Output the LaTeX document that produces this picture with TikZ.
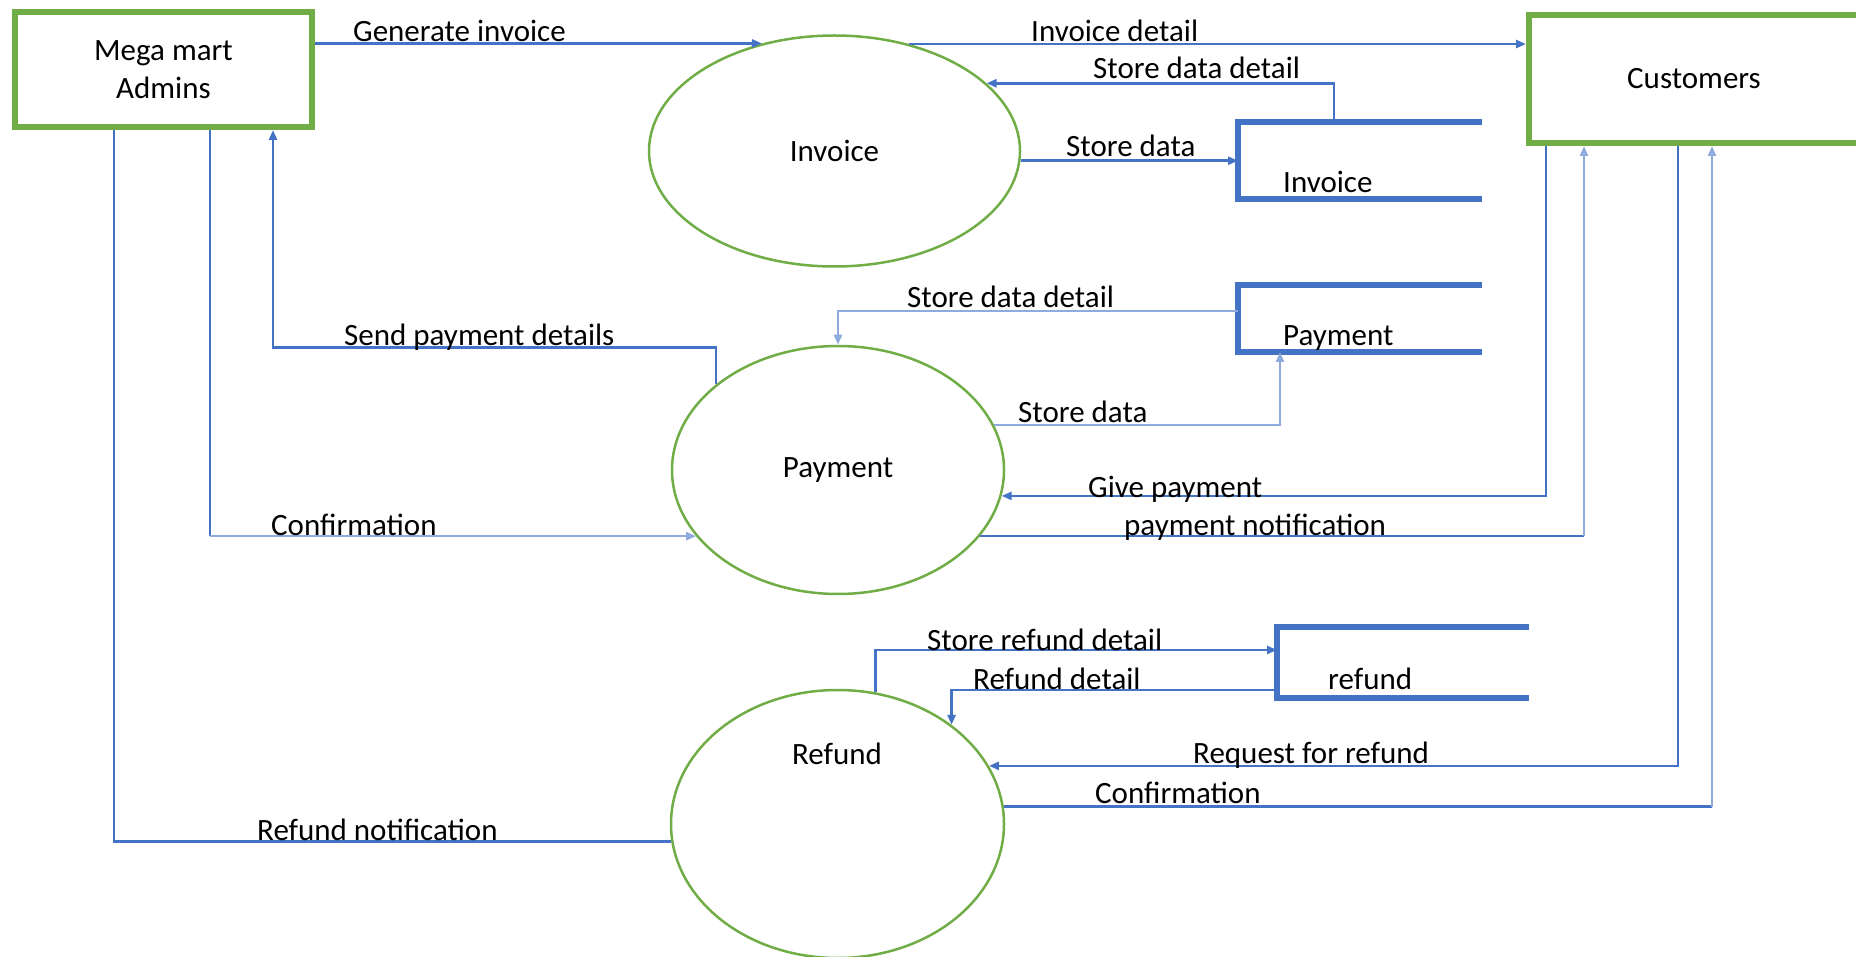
\documentclass[tikz,border=0pt]{standalone}
\usepackage{fontspec}
\setmainfont{Carlito}
\usetikzlibrary{shapes.geometric,arrows.meta}
\definecolor{fblue}{HTML}{4472C4}
\definecolor{flight}{HTML}{8FAADC}
\definecolor{egreen}{HTML}{70AD47}
\begin{document}
\begin{tikzpicture}[x=1pt,y=-1pt,
  txt/.style={font=\fontsize{31}{38}\selectfont},
  lbl/.style={txt, inner sep=0pt, anchor=base west},
  entity/.style={draw=egreen, line width=6pt, txt, align=center, inner sep=0pt},
  proc/.style={ellipse, draw=egreen, line width=2.5pt, txt, inner sep=0pt},
  store/.style={inner sep=0pt, outer sep=0pt},
  stline/.style={draw=fblue, line width=6pt},
  flow/.style={draw=fblue, line width=2.5pt, -{Triangle[length=10pt,width=8pt]}},
  flowplain/.style={draw=fblue, line width=2.5pt},
  light/.style={draw=flight}]
\useasboundingbox (0,0) rectangle (1856,957);

% entities
\node[entity, minimum width=297, minimum height=115] (adm) at (163.5,69.5) {Mega mart\\Admins};
\node[entity, minimum width=330, minimum height=128] (cust) at (1694,79) {Customers};

% processes
\node[proc, minimum width=371, minimum height=231] (inv) at (834.5,151) {Invoice};
\node[proc, minimum width=332, minimum height=248] (pay) at (838,470) {Payment};
\node[proc, minimum width=333, minimum height=268] (ref) at (837.5,824) {};
\node[txt, inner sep=0pt] (refT) at (837,754) {Refund};

% data stores
\node[store, minimum width=244, minimum height=77] (invS) at (1360,160.5) {};
\draw[stline] (invS.north east) -- (invS.north west) -- (invS.south west) -- (invS.south east);
\node[lbl] (invST) at (1283,193) {Invoice};

\node[store, minimum width=244, minimum height=67] (payS) at (1360,318.5) {};
\draw[stline] (payS.north east) -- (payS.north west) -- (payS.south west) -- (payS.south east);
\node[lbl] (payST) at (1283,346) {Payment};

\node[store, minimum width=252, minimum height=71] (refS) at (1403,662.5) {};
\draw[stline] (refS.north east) -- (refS.north west) -- (refS.south west) -- (refS.south east);
\node[lbl] (refST) at (1328,689) {refund};

% flows: invoice
\draw[flow] (adm.east |- inv.124.8) -- (inv.124.8);
\node[lbl] (l1) at (353,42) {Generate invoice};
\draw[flow] (inv.55.2) -- (inv.55.2 -| cust.west);
\node[lbl] (l2) at (1031,42) {Invoice detail};
\draw[flow] ([xshift=96pt]invS.north west) |- (inv.24.4);
\node[lbl] (l3) at (1093,79) {Store data detail};
\draw[flow] (inv.-3.1) -- (inv.-3.1 -| invS.west);
\node[lbl] (l4) at (1066,157) {Store data};

% flows: payment
\draw[flow, light] ([yshift=-26pt]payS.north west) -| (pay.north);
\node[lbl] (l5) at (907,308) {Store data detail};
\draw[flow] (pay.145.5) -- ++(0,-37) -| ([xshift=261pt]adm.south west);
\node[lbl] (l6) at (344,346) {Send payment details};
\draw[flow, light] (pay.16.6) -| ([xshift=42pt]payS.south west);
\node[lbl] (l7) at (1018,423) {Store data};
\draw[flow] ([xshift=20pt]cust.south west) |- (pay.-9.8);
\node[lbl] (l8) at (1088,497) {Give payment};
\coordinate (pnc) at ([xshift=58pt]cust.south west |- pay.-25.2);
\draw[flowplain] (pay.-25.2) -- (pnc);
\draw[flow, light] (pnc) -- ([xshift=58pt]cust.south west);
\node[lbl] (l9) at (1124,535) {payment notification};
\coordinate (cfc) at ([xshift=198pt]adm.south west |- pay.205.2);
\draw[flowplain] ([xshift=198pt]adm.south west) -- (cfc);
\draw[flow, light] (cfc) -- (pay.205.2);
\node[lbl] (l10) at (271,535) {Confirmation};

% flows: refund
\draw[flow] (ref.74.4) |- ([yshift=-23pt]refS.north west);
\node[lbl] (l11) at (927,650) {Store refund detail};
\draw[flow] ([yshift=-63pt]refS.north west) -| (ref.41.7);
\node[lbl] (l12) at (973,689) {Refund detail};
\draw[flow] ([xshift=152pt]cust.south west) |- (ref.21.1);
\node[lbl] (l13) at (1193,763) {Request for refund};
\coordinate (crc) at ([xshift=186pt]cust.south west |- ref.6.6);
\draw[flowplain] (ref.6.6) -- (crc);
\draw[flow, light] (crc) -- ([xshift=186pt]cust.south west);
\node[lbl] (l14) at (1095,803) {Confirmation};
\draw[flowplain] (ref.186.2) -| ([xshift=102pt]adm.south west);
\node[lbl] (l15) at (257,840) {Refund notification};
\end{tikzpicture}
\end{document}
